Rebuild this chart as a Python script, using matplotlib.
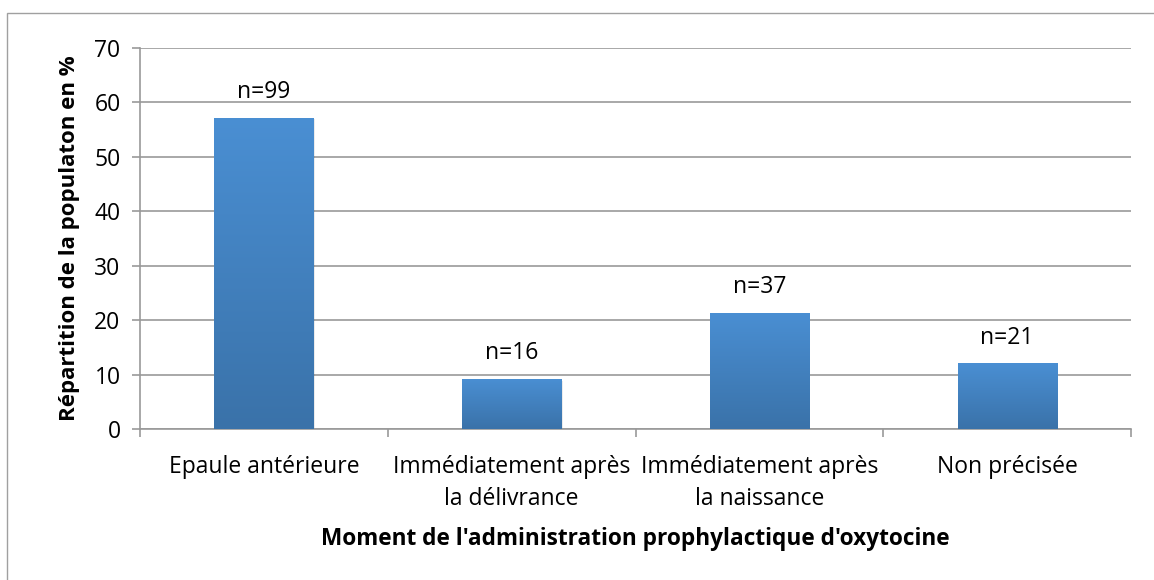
import matplotlib
matplotlib.use("Agg")
import matplotlib.pyplot as plt
import numpy as np
from matplotlib.patches import Rectangle
from matplotlib.colors import LinearSegmentedColormap

categories = ["Epaule antérieure", "Immédiatement après\nla délivrance",
              "Immédiatement après\nla naissance", "Non précisée"]
values = [57.2, 9.2, 21.4, 12.1]
labels = ["n=99", "n=16", "n=37", "n=21"]
yticks = [0, 10, 20, 30, 40, 50, 60, 70]

plt.rcParams['font.family'] = ['Open Sans', 'DejaVu Sans']

fig = plt.figure(figsize=(11.54, 5.80), dpi=100)
# outer frame
fig.patches.append(Rectangle((7/1154, -0.05), 1.05, 1.05 - 13/580, transform=fig.transFigure,
                             fill=False, edgecolor='#a0a0a0', linewidth=1.0))

ax = fig.add_axes([140/1154, 1 - 429/580, (1131 - 140)/1154, (429 - 48)/580])
ax.set_xlim(-0.5, len(categories) - 0.5)
ax.set_ylim(0, 70)

cmap = LinearSegmentedColormap.from_list('g', ['#3a72a9', '#4a8fd3'])
x = np.arange(len(categories))
bars = ax.bar(x, values, width=0.4, color='#4283c4', zorder=3)
grad = np.linspace(0, 1, 256).reshape(-1, 1)
for b in bars:
    bx, by, bw, bh = b.get_x(), b.get_y(), b.get_width(), b.get_height()
    ax.add_patch(Rectangle((bx + 0.006, by), bw, bh - 0.3, facecolor='#000000',
                           alpha=0.08, zorder=2.5, linewidth=0))
    im = ax.imshow(grad, extent=[bx, bx + bw, by, by + bh], origin='lower',
                   cmap=cmap, aspect='auto', zorder=3.5)
    im.set_clip_path(b)

for xi, v, lab in zip(x, values, labels):
    ax.text(xi, v + 4.7, lab, ha='center', va='center', fontsize=16.5, color='black')

ax.set_yticks(yticks)
ax.set_yticklabels([str(t) for t in yticks], fontsize=16.5)
ax.set_xticks(x)
ax.set_xticklabels(categories, fontsize=16.5, linespacing=1.4)
ax.set_xticks(np.arange(-0.5, len(categories), 1), minor=True)
ax.tick_params(axis='x', which='major', length=0, pad=19)
ax.tick_params(axis='x', which='minor', length=6, color='#999999', width=1.2)
ax.tick_params(axis='y', length=6, color='#999999', width=1.2, pad=8)

ax.grid(axis='y', color='#999999', linewidth=1.2, zorder=0)
ax.set_axisbelow(True)
for s in ['top', 'right']:
    ax.spines[s].set_visible(False)
for s in ['left', 'bottom']:
    ax.spines[s].set_color('#999999')
    ax.spines[s].set_linewidth(1.2)

ax.set_xlabel("Moment de l'administration prophylactique d'oxytocine",
              fontsize=16.3, fontweight='bold', labelpad=12)
ax.set_ylabel("Répartition de la populaton en %", fontsize=16, fontweight='bold', labelpad=10)

fig.savefig("out.png", dpi=100)
